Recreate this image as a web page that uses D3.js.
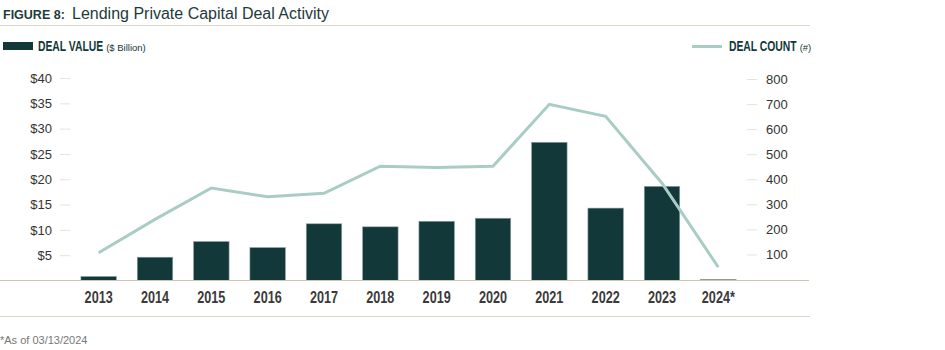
<!doctype html>
<html>
<head>
  <script src="https://cdnjs.cloudflare.com/ajax/libs/d3/7.8.5/d3.min.js"></script>
  <style>
    body { margin: 0; background: #fff; }
  </style>
</head>
<body>
<svg id="chart" width="945" height="350"></svg>
<script>
// chart data
var years = ["2013","2014","2015","2016","2017","2018","2019","2020","2021","2022","2023","2024*"];
var dealValue = [0.8, 4.6, 7.7, 6.5, 11.2, 10.6, 11.7, 12.3, 27.3, 14.3, 18.6, 0.2];
var dealCount = [107, 240, 365, 330, 344, 452, 447, 452, 699, 651, 384, 49];
var leftTicks = [5, 10, 15, 20, 25, 30, 35, 40];
var rightTicks = [100, 200, 300, 400, 500, 600, 700, 800];

var dark = "#12383a", lineCol = "#a9cdc5", tan = "#cfc6b4";
var sans = "'Liberation Sans',Arial,sans-serif";
var svg = d3.select("#chart");

var x = d3.scaleBand().domain(years).range([70.5, 746.5])
    .paddingInner(0.37).paddingOuter(0.185);
var yL = d3.scaleLinear().domain([0, 40]).range([280.5, 78]);
var yR = d3.scaleLinear().domain([0, 800]).range([279.5, 79]);

// title
svg.append("line").attr("x1", 0).attr("x2", 810).attr("y1", 25.5).attr("y2", 25.5)
  .attr("stroke", "#dcd6c8");
svg.append("text").attr("x", 3).attr("y", 19).attr("fill", "#1d3b3b")
  .attr("font-family", sans).attr("font-weight", "bold").attr("font-size", 12.5)
  .text("FIGURE 8:");
svg.append("text").attr("x", 72).attr("y", 19).attr("fill", "#1d3b3b")
  .attr("font-family", sans).attr("font-size", 16)
  .text("Lending Private Capital Deal Activity");

// legend (condensed bold label + small unit)
function legendLabel(x0, main, unit) {
  var t = svg.append("text").attr("transform", "translate(" + x0 + ",51) scale(0.74,1)")
    .attr("fill", dark).attr("font-family", sans).attr("font-weight", "bold")
    .attr("font-size", 14).text(main);
  var w = t.node().getComputedTextLength() * 0.74;
  svg.append("text").attr("x", x0 + w + 3).attr("y", 51).attr("fill", dark)
    .attr("font-family", sans).attr("font-size", 9.5).text(unit);
}
svg.append("rect").attr("x", 3).attr("y", 42).attr("width", 30).attr("height", 8).attr("fill", dark);
legendLabel(38, "DEAL VALUE", "($ Billion)");
svg.append("line").attr("x1", 692).attr("x2", 722).attr("y1", 46.5).attr("y2", 46.5)
  .attr("stroke", lineCol).attr("stroke-width", 3);
legendLabel(729, "DEAL COUNT", "(#)");

// left axis
var axL = svg.append("g").attr("transform", "translate(70,0)")
  .call(d3.axisLeft(yL).tickValues(leftTicks).tickSize(10).tickPadding(8).tickFormat(function(d){ return "$" + d; }));
axL.select(".domain").remove();
axL.selectAll("line").attr("stroke", "#e6e3d8");
axL.selectAll("text").attr("font-family", sans).attr("font-size", 13).attr("fill", "#333");

// right axis
var axR = svg.append("g").attr("transform", "translate(747,0)")
  .call(d3.axisRight(yR).tickValues(rightTicks).tickSize(10).tickPadding(9));
axR.select(".domain").remove();
axR.selectAll("line").attr("stroke", "#e6e3d8");
axR.selectAll("text").attr("font-family", sans).attr("font-size", 13).attr("fill", "#333");

// bars
svg.append("g").selectAll("rect").data(years).join("rect")
  .attr("x", function(d){ return x(d); })
  .attr("width", x.bandwidth())
  .attr("y", function(d, i){ return yL(dealValue[i]); })
  .attr("height", function(d, i){ return yL(0) - yL(dealValue[i]); })
  .attr("fill", dark).attr("stroke", "#8fa3a3").attr("stroke-width", 0.6);

// baseline
svg.append("line").attr("x1", 0).attr("x2", 809).attr("y1", 280.5).attr("y2", 280.5)
  .attr("stroke", tan).attr("stroke-width", 1.2);

// line
var line = d3.line()
  .x(function(d, i){ return x(years[i]) + x.bandwidth() / 2; })
  .y(function(d){ return yR(d); });
svg.append("path").datum(dealCount).attr("d", line)
  .attr("fill", "none").attr("stroke", lineCol).attr("stroke-width", 3);

// x axis labels (condensed)
var axX = svg.append("g").attr("transform", "translate(0,281)")
  .call(d3.axisBottom(x).tickSize(0).tickPadding(11));
axX.select(".domain").remove();
axX.selectAll("text").attr("font-family", sans).attr("font-weight", "bold")
  .attr("font-size", 16).attr("fill", "#3a3a3a").attr("transform", "scale(0.79,1)");

// footnote
svg.append("line").attr("x1", 0).attr("x2", 810).attr("y1", 316.5).attr("y2", 316.5)
  .attr("stroke", "#dcd6c8");
svg.append("text").attr("x", 0).attr("y", 344).text("*As of 03/13/2024")
  .attr("font-family", sans).attr("font-size", 11).attr("fill", "#777");
</script>
</body>
</html>
